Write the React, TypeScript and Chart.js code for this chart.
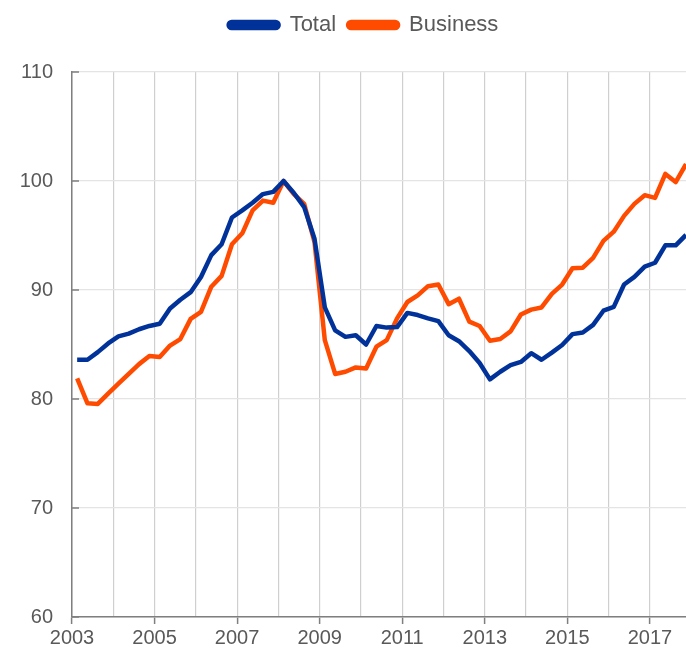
import React, { useEffect, useRef } from "react";
import { Chart, registerables } from "chart.js";

Chart.register(...registerables);

const startYear = 2003;
const quarterCount = 60;
const xPositions: number[] = Array.from({ length: quarterCount }, (_, i) => startYear + (i + 0.5) / 4);

const totalValues = [
  83.6, 83.6, 84.3, 85.1, 85.75, 86.0, 86.4, 86.7, 86.9, 88.3,
  89.1, 89.8, 91.2, 93.2, 94.2, 96.65, 97.3, 98.0, 98.8, 99.0,
  100, 98.9, 97.6, 94.7, 88.4, 86.3, 85.7, 85.85, 85.0, 86.7,
  86.55, 86.6, 87.9, 87.7, 87.4, 87.15, 85.85, 85.3, 84.4, 83.3,
  81.8, 82.5, 83.1, 83.4, 84.2, 83.6, 84.25, 84.95, 85.95, 86.1,
  86.8, 88.1, 88.45, 90.5, 91.2, 92.15, 92.5, 94.1, 94.1, 95.05,
];

const businessValues = [
  81.9, 79.6, 79.55, 80.5, 81.4, 82.3, 83.2, 83.95, 83.85, 84.9,
  85.5, 87.35, 88.0, 90.3, 91.3, 94.2, 95.2, 97.3, 98.2, 98.0,
  100, 98.8, 97.9, 94.4, 85.4, 82.3, 82.5, 82.9, 82.8, 84.8,
  85.4, 87.4, 88.9, 89.5, 90.35, 90.5, 88.7, 89.2, 87.1, 86.7,
  85.35, 85.5, 86.2, 87.75, 88.2, 88.4, 89.65, 90.5, 92.0, 92.05,
  92.95, 94.5, 95.35, 96.8, 97.9, 98.7, 98.45, 100.65, 99.9, 101.55,
];

const seriesLabels = ["Total", "Business"];
const seriesColors = ["#003299", "#ff4b00"];
const yearTicks = [2003, 2004, 2005, 2006, 2007, 2008, 2009, 2010, 2011, 2012, 2013, 2014, 2015, 2016, 2017];
const yTicks = [60, 70, 80, 90, 100, 110];

const textColor = "#595959";
const axisColor = "#7f7f7f";
const fontFamily = "'Liberation Sans', Arial, sans-serif";

const innerTicksPlugin = {
  id: "innerYTicks",
  beforeDatasetsDraw(chart: any) {
    const { ctx, chartArea, scales } = chart;
    ctx.save();
    ctx.strokeStyle = axisColor;
    ctx.lineWidth = 1.5;
    yTicks.forEach((v) => {
      const y = scales.y.getPixelForValue(v);
      ctx.beginPath();
      ctx.moveTo(chartArea.left, y);
      ctx.lineTo(chartArea.left + 7, y);
      ctx.stroke();
    });
    ctx.restore();
  },
};

const legendShiftPlugin = {
  id: "legendShift",
  afterLayout(chart: any) {
    if (chart.legend) {
      chart.legend.left += 13.5;
      chart.legend.right += 13.5;
    }
  },
};

export default function App() {
  const canvasRef = useRef<HTMLCanvasElement | null>(null);

  useEffect(() => {
    if (!canvasRef.current) return;
    const datasets = [totalValues, businessValues].map((vals, i) => ({
      label: seriesLabels[i],
      data: vals.map((v, j) => ({ x: xPositions[j], y: v })),
      borderColor: seriesColors[i],
      backgroundColor: seriesColors[i],
      borderWidth: 4.5,
      pointRadius: 0,
      tension: 0,
      borderJoinStyle: "round" as const,
    }));
    const chart = new Chart(canvasRef.current, {
      type: "line",
      data: { datasets },
      plugins: [innerTicksPlugin, legendShiftPlugin],
      options: {
        animation: false,
        responsive: false,
        layout: { padding: { left: 14, right: 0, top: 2, bottom: 0 } },
        plugins: {
          tooltip: { enabled: false },
          title: {
            display: true,
            text: "",
            position: "top",
            weight: 500,
            padding: 0,
            font: { size: 10, lineHeight: "26px" },
          },
          legend: {
            display: true,
            position: "top",
            labels: {
              color: textColor,
              font: { family: fontFamily, size: 22 },
              boxWidth: 50,
              boxHeight: 6,
              useBorderRadius: true,
              borderRadius: 3,
              padding: 12,
            },
          },
        },
        scales: {
          x: {
            type: "linear",
            min: 2003,
            max: 2017.875,
            afterBuildTicks: (scale: any) => {
              scale.ticks = yearTicks.map((v) => ({ value: v }));
            },
            afterFit: (scale: any) => {
              scale.height = 38;
            },
            ticks: {
              autoSkip: false,
              maxRotation: 0,
              padding: 2,
              color: textColor,
              font: { family: fontFamily, size: 20 },
              callback: (v: any) => (Number(v) % 2 === 1 ? String(v) : ""),
            },
            grid: {
              color: "#cfcfcf",
              lineWidth: 1.2,
              drawTicks: true,
              tickLength: 7,
              tickColor: (c: any) => (c.tick && c.tick.value % 2 === 1 ? axisColor : "rgba(0,0,0,0)"),
              tickWidth: 1.5,
            },
            border: { display: true, color: axisColor, width: 1.5 },
          },
          y: {
            type: "linear",
            min: 60,
            max: 110,
            afterBuildTicks: (scale: any) => {
              scale.ticks = yTicks.map((v) => ({ value: v }));
            },
            afterFit: (scale: any) => {
              scale.width = 58;
            },
            ticks: {
              padding: 19,
              color: textColor,
              font: { family: fontFamily, size: 20 },
            },
            grid: {
              color: "#e4e4e4",
              lineWidth: 1.2,
              drawTicks: false,
            },
            border: { display: true, color: axisColor, width: 1.5 },
          },
        },
      },
    });
    return () => chart.destroy();
  }, []);

  return (
    <div style={{ position: "absolute", left: 0, top: 0, width: 686, height: 655, background: "#ffffff" }}>
      <canvas ref={canvasRef} width={686} height={655} />
    </div>
  );
}
